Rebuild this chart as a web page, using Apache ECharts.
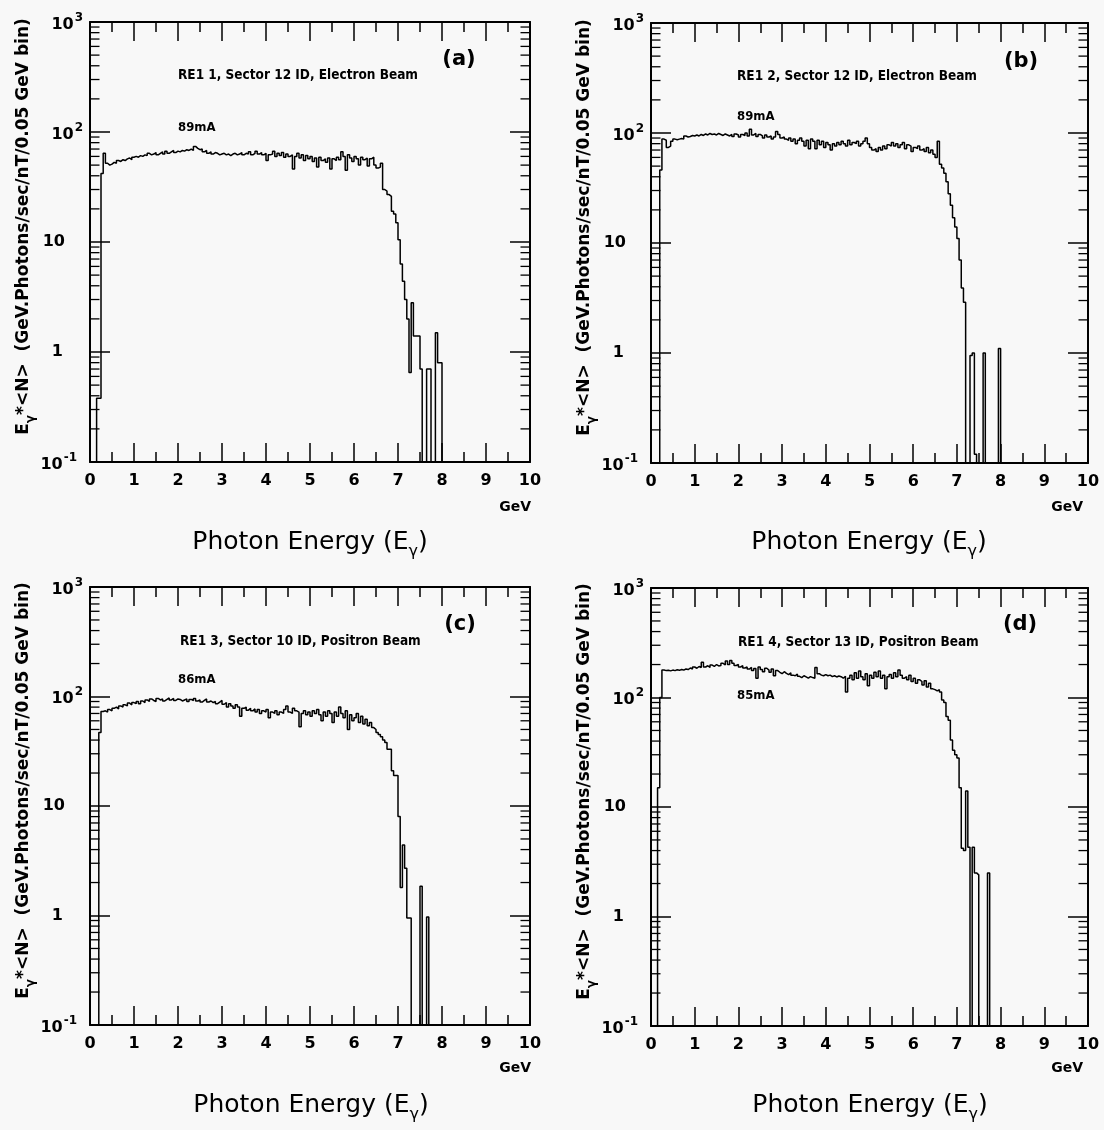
<!DOCTYPE html>
<html>
<head>
<meta charset="utf-8">
<script src="https://cdn.jsdelivr.net/npm/echarts@6/dist/echarts.min.js"></script>
<style>
html,body{margin:0;padding:0;background:#f8f8f8;}
#c{width:1104px;height:1130px;}
</style>
</head>
<body>
<div id="c"></div>
<script>
// ---- data: E_gamma*<N> per 0.05 GeV bin, bins starting at 0.00 GeV ----
const BIN_WIDTH_GEV = 0.05;

const countsA = [
  0,0,0,0.38,0.38,42,64,52,50,51, 53,52,55,54,56,55,57,58,56,59,
  60,59,61,60,62,61,64,62,63,65, 62,64,66,63,67,64,66,68,65,67,
  66,68,67,69,68,70,68,74,71,69, 70,66,68,64,66,63,65,64,62,63,
  64,62,63,61,63,64,62,63,65,62, 64,63,66,62,64,67,63,65,62,64,
  55,62,63,67,60,64,61,65,59,63, 60,62,46,60,64,58,62,55,61,57,
  60,54,58,48,59,55,57,53,58,46, 57,55,59,56,66,60,45,62,58,54,
  60,57,50,59,56,58,49,57,59,50, 47,48,52,30,29,27,26,19,18,15,
  10.5,6.3,4.4,3.0,2.0,0.65,2.8,1.4,1.4,1.4, 0.7,0,0,0.7,0.7,0,0,1.5,0.8,0.8,
  0
];
const countsB = [
  0,0,0,0,46,88,86,74,76,84, 88,87,88,89,88,94,92,93,95,94,
  96,94,97,95,98,96,99,97,98,96, 99,97,95,98,96,94,97,93,98,96,
  92,97,95,100,94,108,96,99,93,97, 94,90,96,92,94,88,92,103,97,90,
  92,88,86,90,84,88,80,86,90,84, 76,86,72,88,84,72,86,78,84,74,
  82,78,70,80,76,82,78,84,80,76, 86,78,82,80,84,76,80,84,90,80,
  74,70,72,68,74,70,76,72,78,76, 82,76,80,74,78,82,72,78,76,68,
  74,72,76,70,72,68,74,66,70,64, 60,84,52,48,43,36,28,22,17,14,
  11,7,3.9,2.9,0,0,0.95,1.0,0.12,0, 0,0,1.0,0,0,0,0,0,0,1.1,
  0
];
const countsC = [
  0,0,0,0,47,73,74,72,76,74, 78,80,77,82,80,84,82,87,84,88,
  86,90,86,91,88,93,90,95,92,90, 96,93,95,91,94,97,93,96,92,95,
  94,91,93,95,90,94,92,96,91,93, 89,92,95,89,91,88,90,86,89,92,
  85,88,80,86,82,78,84,80,66,78, 80,75,78,74,77,72,76,70,74,72,
  76,64,72,70,74,68,72,70,76,82, 72,70,78,74,72,53,70,74,68,72,
  66,74,70,76,68,60,72,66,74,70, 58,72,66,80,70,64,74,50,68,60,
  64,70,58,66,56,62,54,58,52,50, 47,45,43,40,38,33,33,21,19,19,
  8,1.8,4.4,2.7,0.95,0.95,0,0,0,0, 1.85,0,0,0.97,0,0,0,0,0,0,
  0
];
const countsD = [
  0,0,0,15,100,178,176,177,175,178, 176,179,177,180,178,182,180,186,182,190,
  185,192,188,210,190,195,188,198,192,200, 194,196,205,198,215,200,218,205,196,200,
  190,195,186,190,182,188,176,184,150,190, 180,172,185,178,170,182,158,176,170,165,
  172,166,162,168,160,158,164,156,152,158, 154,150,155,152,150,188,165,160,158,162,
  158,160,155,158,154,157,155,150,156,112, 150,160,145,168,150,175,155,145,165,128,
  160,150,170,155,175,150,160,120,155,162, 150,168,155,178,160,150,155,145,160,140,
  150,135,145,140,130,142,125,135,120,118, 115,118,112,95,90,67,62,41,33,30,
  28,15,4.2,4.0,14,4.3,0,4.3,2.5,2.4, 0,0,0,0,2.5,0,0,0,0,0,
  0
];

const panelLetters = ['(a)', '(b)', '(c)', '(d)'];
const panelTitles = [
  'RE1 1, Sector 12 ID, Electron Beam',
  'RE1 2, Sector 12 ID, Electron Beam',
  'RE1 3, Sector 10 ID, Positron Beam',
  'RE1 4, Sector 13 ID, Positron Beam'
];
const beamCurrents = ['89mA', '89mA', '86mA', '85mA'];
const logMinorTicks = [0.2,0.3,0.4,0.5,0.6,0.7,0.8,0.9, 2,3,4,5,6,7,8,9, 20,30,40,50,60,70,80,90, 200,300,400,500,600,700,800,900];

// ---- layout ----
const FONT = 'DejaVu Sans';
const CFONT = '"DejaVu Sans Condensed", "Liberation Sans Narrow", "DejaVu Sans"';
const grids = [
  {left: 90, top: 22, width: 440, height: 440},
  {left: 651, top: 23, width: 437, height: 440},
  {left: 90, top: 587, width: 440, height: 438},
  {left: 651, top: 588, width: 437, height: 438}
];
const textPos = [
  {tx: 178, ty: 75, lx: 459, ly: 60, mx: 178, my: 128, gx: 531, gy: 507, px: 310, py: 545},
  {tx: 737, ty: 76, lx: 1021, ly: 62, mx: 737, my: 117, gx: 1083, gy: 507, px: 869, py: 545},
  {tx: 180, ty: 641, lx: 460, ly: 625, mx: 178, my: 680, gx: 531, gy: 1068, px: 311, py: 1108},
  {tx: 738, ty: 642, lx: 1020, ly: 625, mx: 737, my: 696, gx: 1083, gy: 1068, px: 870, py: 1108}
];

const FLOOR = 0.01; // empty bins: drawn below the 0.1 axis floor and clipped
const panels = [countsA, countsB, countsC, countsD];
const xAxes = [], yAxes = [], series = [], graphics = [];
const tickLine = {color: '#000', width: 1.5};
const lbl = {fontSize: 16, fontWeight: 'bold', fontFamily: FONT, color: '#000'};

panels.forEach((vals, i) => {
  const xBase = {
    gridIndex: i, type: 'value', min: 0, max: 10, interval: 1,
    axisLine: {onZero: false, lineStyle: {color: '#000', width: 2}},
    axisTick: {inside: true, length: 19, lineStyle: tickLine},
    minorTick: {show: true, splitNumber: 2, length: 10, lineStyle: tickLine},
    splitLine: {show: false}, minorSplitLine: {show: false}
  };
  xAxes.push(Object.assign({}, xBase, {
    position: 'bottom',
    axisLabel: Object.assign({margin: 11}, lbl)
  }));
  xAxes.push(Object.assign({}, xBase, {position: 'top', axisLabel: {show: false}}));

  const yBase = {
    gridIndex: i, type: 'log', logBase: 10, min: 0.1, max: 1000,
    axisLine: {onZero: false, lineStyle: {color: '#000', width: 2}},
    axisTick: {inside: true, length: 20, lineStyle: tickLine},
    splitLine: {show: false}
  };
  yAxes.push(Object.assign({}, yBase, {
    position: 'left',
    axisLabel: {
      margin: 7,
      formatter: (v) => {
        const e = Math.round(Math.log10(v));
        if (e === 0) return '{p20|1}';
        if (e === 1) return '{p18|10}';
        if (e < 0) return '{b|10}{sm|-1}';
        return '{b|10}{s|' + e + '}';
      },
      rich: {
        b: Object.assign({verticalAlign: 'bottom'}, lbl),
        p18: Object.assign({padding: [0, 18, 0, 0]}, lbl),
        p20: Object.assign({padding: [0, 20, 0, 0]}, lbl),
        s: {fontSize: 12, fontWeight: 'bold', fontFamily: FONT, color: '#000', verticalAlign: 'bottom', padding: [0, 0, 9, 1]},
        sm: {fontSize: 12, fontWeight: 'bold', fontFamily: FONT, color: '#000', verticalAlign: 'bottom', padding: [0, 6, 9, 1]}
      }
    },
    name: '{n|E}{g|γ}{n|*<N>  (GeV.Photons/sec/nT/0.05 GeV bin)}',
    nameLocation: 'middle',
    nameGap: 53,
    nameTextStyle: {
      padding: [0, 0, 0, 31],
      rich: {
        n: {fontSize: 17, fontWeight: 'bold', fontFamily: FONT, color: '#000', verticalAlign: 'bottom', padding: [0, 0, 4, 0]},
        g: {fontSize: 12, fontWeight: 'bold', fontFamily: FONT, color: '#000', verticalAlign: 'bottom'}
      }
    }
  }));
  yAxes.push(Object.assign({}, yBase, {position: 'right', axisLabel: {show: false}}));

  const data = vals.map((v, k) => [+(k * BIN_WIDTH_GEV).toFixed(2), v > 0 ? v : FLOOR]);
  const last = vals[vals.length - 1];
  data.push([+(vals.length * BIN_WIDTH_GEV).toFixed(2), last > 0 ? last : FLOOR]);
  series.push({
    type: 'line', xAxisIndex: 2 * i, yAxisIndex: 2 * i, step: 'end', symbol: 'none',
    data: data, clip: true, silent: true, animation: false,
    lineStyle: {color: '#000', width: 1.5}
  });
  series.push({
    type: 'custom', xAxisIndex: 2 * i, yAxisIndex: 2 * i, silent: true, animation: false,
    data: logMinorTicks.map(v => [0, v]),
    renderItem: (params, api) => {
      const v = api.value(1);
      const L = api.coord([0, v]);
      const R = api.coord([10, v]);
      const st = {stroke: '#000', lineWidth: 1.3};
      return {type: 'group', children: [
        {type: 'line', shape: {x1: L[0], y1: L[1], x2: L[0] + 9.5, y2: L[1]}, style: st},
        {type: 'line', shape: {x1: R[0], y1: R[1], x2: R[0] - 9.5, y2: R[1]}, style: st}
      ]};
    }
  });

  const p = textPos[i];
  graphics.push({type: 'text', x: p.tx, y: p.ty, style: {text: panelTitles[i], fill: '#000', font: 'bold 13.5px ' + CFONT, align: 'left', verticalAlign: 'middle'}});
  graphics.push({type: 'text', x: p.lx, y: p.ly, style: {text: panelLetters[i], fill: '#000', font: 'bold 21px "' + FONT + '"', align: 'center', verticalAlign: 'middle'}});
  graphics.push({type: 'text', x: p.mx, y: p.my, style: {text: beamCurrents[i], fill: '#000', font: 'bold 13px ' + CFONT, align: 'left', verticalAlign: 'middle'}});
  graphics.push({type: 'text', x: p.gx, y: p.gy, style: {text: 'GeV', fill: '#000', font: 'bold 14px "' + FONT + '"', align: 'right', verticalAlign: 'middle'}});
  graphics.push({type: 'text', x: p.px, y: p.py, style: {
    text: '{t|Photon Energy (E}{s|γ}{t|)}', align: 'center', verticalAlign: 'middle',
    rich: {
      t: {fontSize: 25, fontFamily: FONT, fill: '#000', color: '#000', verticalAlign: 'bottom', padding: [0, 0, 5, 0]},
      s: {fontSize: 16, fontFamily: FONT, fill: '#000', color: '#000', verticalAlign: 'bottom'}
    }
  }});
});

const chart = echarts.init(document.getElementById('c'), null, {renderer: 'canvas', width: 1104, height: 1130});
chart.setOption({
  backgroundColor: '#f8f8f8',
  animation: false,
  grid: grids,
  xAxis: xAxes,
  yAxis: yAxes,
  series: series,
  graphic: graphics
});
</script>
</body>
</html>
